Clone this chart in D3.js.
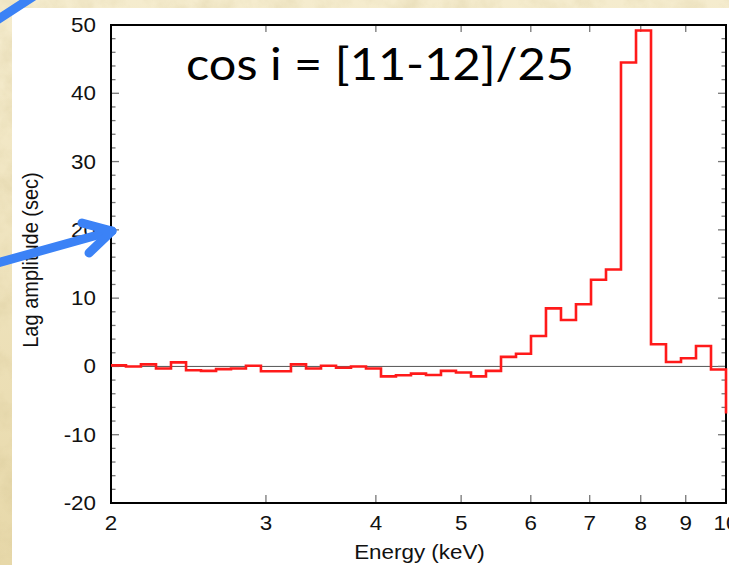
<!DOCTYPE html>
<html>
<head>
<meta charset="utf-8">
<script src="https://cdn.jsdelivr.net/npm/d3@7"></script>
<style>
  html, body { margin: 0; padding: 0; background: #f1e6c2; overflow: hidden; }
  svg { display: block; }
</style>
</head>
<body>
<div id="chart"></div>
<script>
// bin edges in keV (log spaced, 41 bins from 2 to 10)
const energyEdges = [2.000, 2.080, 2.163, 2.250, 2.340, 2.434, 2.531, 2.633, 2.738, 2.847,
    2.961, 3.080, 3.203, 3.332, 3.465, 3.604, 3.748, 3.898, 4.054, 4.216,
    4.385, 4.561, 4.743, 4.933, 5.131, 5.336, 5.550, 5.772, 6.003, 6.243,
    6.493, 6.753, 7.024, 7.305, 7.597, 7.902, 8.218, 8.547, 8.889, 9.245,
    9.615, 10.0];
// lag amplitude per bin (sec)
const lagValues = [0.15, 0.0, 0.3, -0.3, 0.6, -0.55, -0.65, -0.4, -0.3, 0.1,
    -0.7, -0.7, 0.3, -0.3, 0.1, -0.2, 0.0, -0.3, -1.45, -1.3,
    -1.05, -1.25, -0.65, -0.9, -1.45, -0.65, 1.4, 1.85, 4.45, 8.5,
    6.8, 9.1, 12.7, 14.2, 44.5, 49.2, 3.25, 0.65, 1.2, 3.0,
    -0.45];
// first bin past 10 keV, only its edge shows
const lagAfterEnd = -6.9;

const xTicks = [2, 3, 4, 5, 6, 7, 8, 9, 10];
const yTicks = [-20, -10, 0, 10, 20, 30, 40, 50];
const yMinorTicks = d3.range(-20, 51, 2).filter(v => v % 10 !== 0);
const title = 'cos i = [11-12]/25';

const W = 729, H = 565;
const margin = {top: 25, right: 3, bottom: 62, left: 111};
const width = W - margin.left - margin.right,
    height = H - margin.top - margin.bottom;

const svg = d3.select('#chart').append('svg')
    .attr('width', W)
    .attr('height', H);

// paper-like backdrop
const defs = svg.append('defs');
const grad = defs.append('linearGradient')
    .attr('id', 'paperGrad')
    .attr('x1', 0).attr('y1', 0).attr('x2', 0).attr('y2', 1);
grad.append('stop').attr('offset', '0%').attr('stop-color', '#f5ecce');
grad.append('stop').attr('offset', '100%').attr('stop-color', '#e7d8a9');
const paper = defs.append('filter').attr('id', 'paperNoise')
    .attr('x', 0).attr('y', 0).attr('width', 1).attr('height', 1);
paper.append('feTurbulence')
    .attr('type', 'fractalNoise')
    .attr('baseFrequency', 0.04)
    .attr('numOctaves', 4)
    .attr('seed', 7);
paper.append('feColorMatrix')
    .attr('type', 'matrix')
    .attr('values', '0 0 0 0 0.6  0 0 0 0 0.5  0 0 0 0 0.25  1.1 0 0 0 -0.45');

svg.append('rect').attr('width', W).attr('height', H).attr('fill', 'url(#paperGrad)');
svg.append('rect').attr('width', W).attr('height', H)
    .attr('filter', 'url(#paperNoise)').attr('opacity', 0.5);
svg.append('rect')
    .attr('x', 12).attr('y', 8)
    .attr('width', W - 12).attr('height', H - 8)
    .attr('fill', '#ffffff');

const g = svg.append('g')
    .attr('transform', 'translate(' + margin.left + ',' + margin.top + ')');

const x = d3.scaleLog().domain([2, 10]).range([0, width]);
const y = d3.scaleLinear().domain([-20, 50]).range([height, 0]);

const font = '"Liberation Sans", Arial, Helvetica, sans-serif';
const stretch = 1.12;

// zero line
g.append('line')
    .attr('x1', 0).attr('x2', width)
    .attr('y1', y(0)).attr('y2', y(0))
    .attr('stroke', '#555')
    .attr('stroke-width', 1);

// ticks, pointing inwards on all four sides
const tickColor = '#777';
const yAll = yTicks.map(v => ({v, len: 8})).concat(yMinorTicks.map(v => ({v, len: 4.5})));
g.selectAll('.ytl').data(yAll).enter().append('line')
    .attr('x1', 0).attr('x2', d => d.len)
    .attr('y1', d => y(d.v)).attr('y2', d => y(d.v))
    .attr('stroke', tickColor).attr('stroke-width', 1.3);
g.selectAll('.ytr').data(yAll).enter().append('line')
    .attr('x1', width).attr('x2', d => width - d.len)
    .attr('y1', d => y(d.v)).attr('y2', d => y(d.v))
    .attr('stroke', tickColor).attr('stroke-width', 1.3);
g.selectAll('.xtb').data(xTicks).enter().append('line')
    .attr('x1', d => x(d)).attr('x2', d => x(d))
    .attr('y1', height).attr('y2', height - 8)
    .attr('stroke', tickColor).attr('stroke-width', 1.3);
g.selectAll('.xtt').data(xTicks).enter().append('line')
    .attr('x1', d => x(d)).attr('x2', d => x(d))
    .attr('y1', 0).attr('y2', 7)
    .attr('stroke', tickColor).attr('stroke-width', 1.3);

// tick labels
g.selectAll('.ylab').data(yTicks).enter().append('text')
    .attr('transform', d => 'translate(-15,' + (y(d) + 7) + ') scale(' + stretch + ',1)')
    .attr('text-anchor', 'end')
    .style('font-family', font)
    .style('font-size', '20px')
    .attr('fill', '#111')
    .text(d => d);
g.selectAll('.xlab').data(xTicks).enter().append('text')
    .attr('transform', d => 'translate(' + x(d) + ',' + (height + 26.5) + ') scale(' + stretch + ',1)')
    .attr('text-anchor', 'middle')
    .style('font-family', font)
    .style('font-size', '20px')
    .attr('fill', '#111')
    .text(d => d);

// axis titles
svg.append('text')
    .attr('transform', 'translate(' + (margin.left + width / 2 + 1) + ',559) scale(' + stretch + ',1)')
    .attr('text-anchor', 'middle')
    .style('font-family', font)
    .style('font-size', '20px')
    .attr('fill', '#111')
    .text('Energy (keV)');
svg.append('text')
    .attr('transform', 'translate(38,260) scale(' + stretch + ',1) rotate(-90)')
    .attr('text-anchor', 'middle')
    .style('font-family', font)
    .style('font-size', '20px')
    .attr('fill', '#111')
    .text('Lag amplitude (sec)');

// frame
g.append('rect')
    .attr('width', width).attr('height', height)
    .attr('fill', 'none')
    .attr('stroke', '#000')
    .attr('stroke-width', 2);

// histogram as a step line, on top of the frame so the drop at 10 keV shows
const steps = lagValues.map((v, i) => [energyEdges[i], v]);
steps.push([energyEdges[energyEdges.length - 1], lagAfterEnd]);
const line = d3.line()
    .x(d => x(d[0]))
    .y(d => y(d[1]))
    .curve(d3.curveStepAfter);
g.append('path')
    .attr('d', line(steps))
    .attr('fill', 'none')
    .attr('stroke', '#ff1a1a')
    .attr('stroke-width', 2.6);

// annotation
svg.append('text')
    .attr('x', 186).attr('y', 80)
    .attr('textLength', 388)
    .attr('lengthAdjust', 'spacingAndGlyphs')
    .style('font-family', 'Lato, "Noto Sans", sans-serif')
    .style('font-size', '45px')
    .attr('fill', '#000')
    .text(title);

// blue arrows drawn over the slide
const blue = '#3b82f6';
const arrow = svg.append('g')
    .attr('stroke', blue)
    .attr('stroke-width', 9)
    .attr('stroke-linecap', 'round')
    .attr('stroke-linejoin', 'round')
    .attr('fill', 'none');
arrow.append('path').attr('d', 'M-10,265 L112,231');
arrow.append('path').attr('d', 'M82,223 L112,231 L89,253');
arrow.append('path').attr('d', 'M-6,22 L34,-4');
</script>
</body>
</html>
